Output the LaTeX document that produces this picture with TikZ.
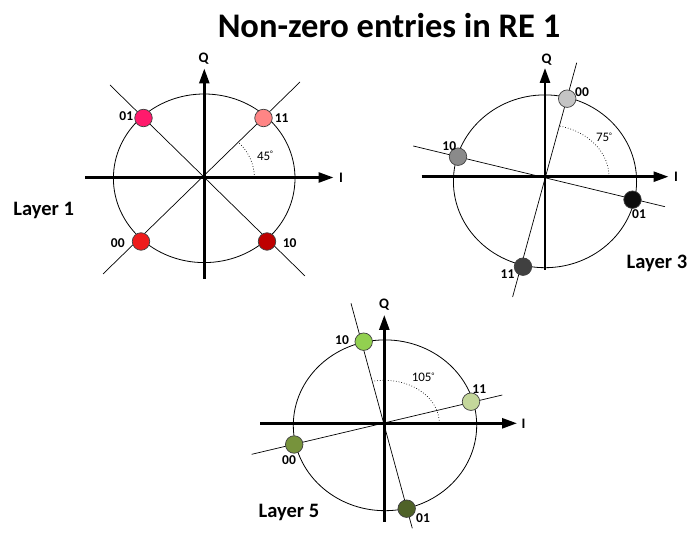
\documentclass[tikz,border=0pt]{standalone}
\usepackage{fontspec}
\setmainfont{Carlito}
\usetikzlibrary{arrows.meta}
\definecolor{pinkA}{HTML}{FF1A6C}
\definecolor{salmonA}{HTML}{FF8585}
\definecolor{redA}{HTML}{EE1B1B}
\definecolor{darkredA}{HTML}{BE0000}
\definecolor{grayA}{HTML}{C4C4C4}
\definecolor{grayB}{HTML}{8A8A8A}
\definecolor{grayC}{HTML}{0D0D0D}
\definecolor{grayD}{HTML}{404040}
\definecolor{greenA}{HTML}{92D050}
\definecolor{greenB}{HTML}{C4D79B}
\definecolor{greenC}{HTML}{77933C}
\definecolor{greenD}{HTML}{4F6228}
\tikzset{
  axisline/.style={line width=2.6pt, -{Triangle[length=15pt,width=10pt]}},
  thinline/.style={line width=0.7pt},
  ring/.style={line width=0.8pt},
  anglearc/.style={line width=0.7pt, dotted},
  dot/.style={circle, draw=black!75, line width=0.7pt, minimum size=17.5pt, inner sep=0pt},
  ptlabel/.style={font=\fontsize{13.5}{14}\selectfont\bfseries, inner sep=0pt},
  axlabel/.style={font=\fontsize{14.5}{15}\selectfont\bfseries, inner sep=0pt},
  layerlabel/.style={font=\fontsize{20.5}{22}\selectfont\bfseries, inner sep=0pt},
  anglabel/.style={font=\fontsize{13}{14}\selectfont, inner sep=0pt},
}
\newcommand{\degsym}{\raisebox{3.6pt}{\fontsize{8}{8}\selectfont °}}
\begin{document}
\begin{tikzpicture}[x=1pt,y=-1pt]
\useasboundingbox (0,0) rectangle (689,545);
\node[font=\fontsize{34.5}{37}\selectfont\bfseries, inner sep=0pt] (title) at (389,26) {Non-zero entries in RE 1};

% ---------- Layer 1 ----------
\coordinate (o1) at (204.3,177.5);
\draw[ring] (204.2,178.3) ellipse [x radius=90.8, y radius=84.3];
\coordinate (a1s) at (110,85);
\coordinate (a1e) at (305,276);
\coordinate (b1s) at (300,82);
\coordinate (b1e) at (103,274);
\draw[thinline] (a1s) -- (a1e);
\draw[thinline] (b1s) -- (b1e);
\draw[anglearc] plot[domain=0:46, samples=30, variable=\t] ({204.3+50*cos(\t)}, {177.5-48*sin(\t)});
\node[anglabel] (ang1) at (265,156) {45\degsym};
\coordinate (h1s) at (85,177.5);
\coordinate (h1e) at (333.5,177.5);
\coordinate (v1s) at (204.3,279);
\coordinate (v1e) at (204.3,68.5);
\draw[axisline] (h1s) -- (h1e);
\draw[axisline] (v1s) -- (v1e);
\node[axlabel] (i1) at (341,177.5) {I};
\node[axlabel] (q1) at (203.5,58.5) {Q};
\node[dot, fill=pinkA] (p1a) at (143.5,118) {};
\node[dot, fill=salmonA] (p1b) at (263.5,118) {};
\node[dot, fill=redA] (p1c) at (141,241.5) {};
\node[dot, fill=darkredA] (p1d) at (267,241.5) {};
\node[ptlabel] (l1a) at (126.3,116.5) {01};
\node[ptlabel] (l1b) at (281.7,118) {11};
\node[ptlabel] (l1c) at (117.8,243.3) {00};
\node[ptlabel] (l1d) at (289.7,243.3) {10};
\node[layerlabel] (lay1) at (43.7,210) {Layer 1};

% ---------- Layer 3 ----------
\coordinate (o2) at (545,176.7);
\draw[ring] (545,181.3) ellipse [x radius=91.6, y radius=86.4];
\coordinate (a2s) at (576.7,62.7);
\coordinate (a2e) at (512.6,297);
\coordinate (b2s) at (413.3,146);
\coordinate (b2e) at (665,206.7);
\draw[thinline] (a2s) -- (a2e);
\draw[thinline] (b2s) -- (b2e);
\draw[anglearc] plot[domain=0:77.7, samples=30, variable=\t] ({545+64*cos(\t)}, {176.7-52*sin(\t)});
\node[anglabel] (ang2) at (604,137.5) {75\degsym};
\coordinate (h2s) at (421.7,176.7);
\coordinate (h2e) at (668.5,176.7);
\coordinate (v2s) at (545,270);
\coordinate (v2e) at (545,68);
\draw[axisline] (h2s) -- (h2e);
\draw[axisline] (v2s) -- (v2e);
\node[axlabel] (i2) at (676,176.7) {I};
\node[axlabel] (q2) at (546.5,59.5) {Q};
\node[dot, fill=grayA] (p2a) at (567.2,98.7) {};
\node[dot, fill=grayB] (p2b) at (458,156.7) {};
\node[dot, fill=grayC] (p2c) at (632.5,199.7) {};
\node[dot, fill=grayD] (p2d) at (523,266.7) {};
\node[ptlabel] (l2a) at (582,91.7) {00};
\node[ptlabel] (l2b) at (449.3,146.3) {10};
\node[ptlabel] (l2c) at (639,214.5) {01};
\node[ptlabel] (l2d) at (507.5,273.7) {11};
\node[layerlabel] (lay2) at (657,263.5) {Layer 3};

% ---------- Layer 5 ----------
\coordinate (o3) at (384.3,423.3);
\draw[ring] (385,425.3) ellipse [x radius=91.7, y radius=85.4];
\coordinate (a3s) at (351,303.3);
\coordinate (a3e) at (412.3,528.3);
\coordinate (b3s) at (251.7,454.3);
\coordinate (b3e) at (502.3,395);
\draw[thinline] (a3s) -- (a3e);
\draw[thinline] (b3s) -- (b3e);
\draw[anglearc] plot[domain=0:101.8, samples=36, variable=\t] ({384.3+55*cos(\t)}, {423.3-43*sin(\t)});
\node[anglabel] (ang3) at (423,377.5) {105\degsym};
\coordinate (h3s) at (260,423.3);
\coordinate (h3e) at (517,423.3);
\coordinate (v3s) at (384.3,522);
\coordinate (v3e) at (384.3,315);
\draw[axisline] (h3s) -- (h3e);
\draw[axisline] (v3s) -- (v3e);
\node[axlabel] (i3) at (523.5,423.3) {I};
\node[axlabel] (q3) at (384,305) {Q};
\node[dot, fill=greenA] (p3a) at (363.7,341.7) {};
\node[dot, fill=greenB] (p3b) at (471,401.7) {};
\node[dot, fill=greenC] (p3c) at (294.2,444.5) {};
\node[dot, fill=greenD] (p3d) at (406.7,508.7) {};
\node[ptlabel] (l3a) at (342,340.3) {10};
\node[ptlabel] (l3b) at (479.3,388.8) {11};
\node[ptlabel] (l3c) at (289,460.3) {00};
\node[ptlabel] (l3d) at (423,517.8) {01};
\node[layerlabel] (lay3) at (289,512.5) {Layer 5};
\end{tikzpicture}
\end{document}
